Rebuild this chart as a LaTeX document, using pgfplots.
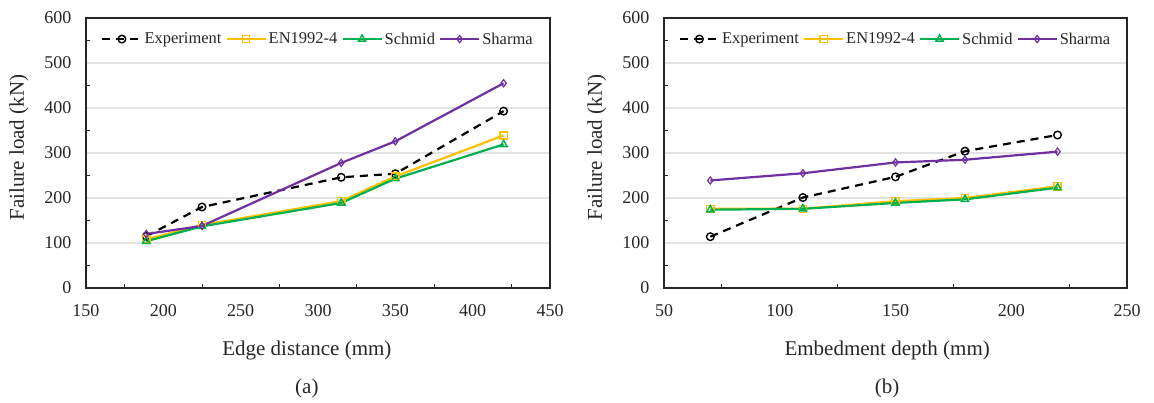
\documentclass[border=0pt]{standalone}
\usepackage{pgfplots}
\pgfplotsset{compat=1.18}
\usepackage{fontspec}
\setmainfont{Liberation Serif}
\definecolor{cexp}{HTML}{000000}
\definecolor{cen}{HTML}{FFC000}
\definecolor{csch}{HTML}{00B050}
\definecolor{csha}{HTML}{7030A0}
\definecolor{gridc}{HTML}{E3E3E3}
\definecolor{axc}{HTML}{262626}
\pgfplotsset{
  panel/.style={
    scale only axis,
    clip=false,
    height=270pt,
    ymin=0, ymax=600,
    ytick={0,100,...,600},
    minor y tick num=1,
    minor x tick num=1,
    major tick length=0pt,
    minor tick length=4pt,
    tick align=inside,
    tick style={axc, line width=1pt},
    xtick pos=bottom, ytick pos=left,
    axis line style={axc, line width=1.3pt},
    ymajorgrids,
    grid style={gridc, line width=1.6pt},
    /pgf/number format/assume math mode=true,
    /pgf/number format/1000 sep={},
    ticklabel style={font=\fontsize{18}{20}\selectfont, text=black!85},
    yticklabel style={xshift=-11pt},
    xticklabel style={yshift=-13pt},
    label style={font=\fontsize{21}{24}\selectfont, text=black!85},
    ylabel={Failure load (kN)},
    ylabel style={at={(axis description cs:-0.145,0.52)}, anchor=center},
    legend columns=4,
    legend style={draw=none, fill=none, at={(axis description cs:0.5,0.922)}, anchor=center,
      font=\fontsize{16.5}{18}\selectfont, text=black!85,
      nodes={inner xsep=2pt},
      /tikz/every odd column/.append style={column sep=0pt},
      /tikz/every even column/.append style={column sep=2pt}},
    legend image code/.code={\draw[mark repeat=2,mark phase=2,##1] plot coordinates {(0pt,0pt) (19.5pt,0pt) (39pt,0pt)};},
    exp/.style={cexp, line width=2.2pt, dash pattern=on 8pt off 6pt, mark=o, mark size=3.8pt, mark options={solid, fill=white, line width=1.4pt}},
    en/.style={cen, line width=2.2pt, mark=square, mark size=3.6pt, mark options={solid, fill=white, line width=1.4pt}},
    sch/.style={csch, line width=2.2pt, mark=triangle, mark size=4.2pt, mark options={solid, fill=white, line width=1.4pt}},
    sha/.style={csha, line width=2.2pt, mark=diamond, mark size=3.6pt, mark options={solid, fill=white, line width=1.2pt}},
  }
}
\begin{document}
\begin{tikzpicture}
\useasboundingbox (0pt,0pt) rectangle (1154pt,402pt);
\begin{axis}[panel, at={(86pt,114pt)}, anchor=south west, width=464pt,
  xmin=150, xmax=450, xtick={150,200,...,450},
  xlabel={Edge distance (mm)},
  xlabel style={at={(axis description cs:0.476,0)}, anchor=center, yshift=-62pt}]
\addplot[exp] coordinates {(189,115) (225,180) (315,246) (350,254) (420,393)};
\addplot[en] coordinates {(189,108) (225,140) (315,193) (350,248) (420,339)};
\addplot[sch] coordinates {(189,104) (225,137) (315,189) (350,243) (420,319)};
\addplot[sha] coordinates {(189,120) (225,138) (315,278) (350,326) (420,455)};
\legend{Experiment, EN1992-4, Schmid, Sharma}
\node[font=\fontsize{21}{24}\selectfont, text=black!85] at (axis description cs:0.476,0) [yshift=-100pt] {(a)};
\end{axis}
\begin{axis}[panel, at={(664pt,114pt)}, anchor=south west, width=463pt,
  xmin=50, xmax=250, xtick={50,100,...,250},
  xlabel={Embedment depth (mm)},
  xlabel style={at={(axis description cs:0.482,0)}, anchor=center, yshift=-62pt}]
\addplot[exp] coordinates {(70,114) (110,201) (150,247) (180,304) (220,340)};
\addplot[en] coordinates {(70,176) (110,176) (150,193) (180,200) (220,226)};
\addplot[sch] coordinates {(70,174) (110,176) (150,189) (180,197) (220,223)};
\addplot[sha] coordinates {(70,239) (110,255) (150,279) (180,285) (220,303)};
\legend{Experiment, EN1992-4, Schmid, Sharma}
\node[font=\fontsize{21}{24}\selectfont, text=black!85] at (axis description cs:0.482,0) [yshift=-100pt] {(b)};
\end{axis}
\end{tikzpicture}
\end{document}
